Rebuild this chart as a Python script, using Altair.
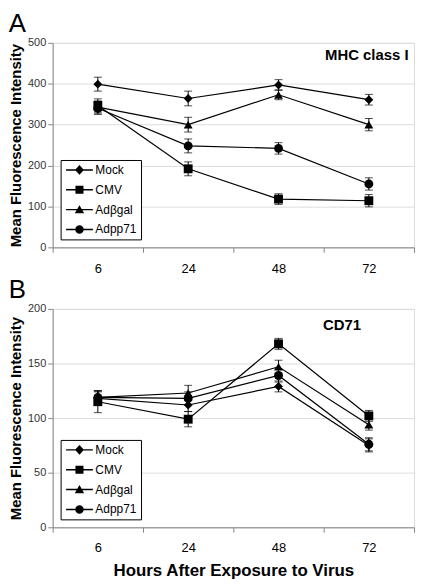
import altair as alt
import pandas as pd

FONT = "Liberation Sans"

hours = ["6", "24", "48", "72"]
series = ["Mock", "CMV", "Adβgal", "Adpp71"]

# Panel A: MHC class I
mhc_mock = [399, 364, 397, 361]
mhc_cmv = [347, 192, 118, 114]
mhc_adbgal = [343, 300, 373, 300]
mhc_adpp71 = [340, 248, 242, 155]
mhc_err_mock = [17, 18, 13, 13]
mhc_err_cmv = [16, 17, 13, 15]
mhc_err_adbgal = [15, 18, 12, 15]
mhc_err_adpp71 = [15, 17, 14, 15]

# Panel B: CD71
cd71_mock = [118, 112, 129, 75]
cd71_cmv = [115, 99, 168, 102]
cd71_adbgal = [119, 123, 147, 94]
cd71_adpp71 = [119, 118, 139, 76]
cd71_err_mock = [6, 6, 5, 6]
cd71_err_cmv = [10, 7, 5, 5]
cd71_err_adbgal = [6, 7, 6, 5]
cd71_err_adpp71 = [6, 6, 6, 6]

marker_shapes = ["diamond", "square", "triangle-up", "circle"]
# legend glyphs: a short line with the marker in its middle (shifted right by 2 units)
LINE = "M-1,-0.16L5,-0.16L5,0.16L-1,0.16Z "
legend_paths = [
    LINE + "M2,-1.1L3,0L2,1.1L1,0Z",
    LINE + "M1.1,-0.9L2.9,-0.9L2.9,0.9L1.1,0.9Z",
    LINE + "M2,-1L3.05,0.8L0.95,0.8Z",
    LINE + "M1.05,0A0.95,0.95 0 1,1 2.95,0A0.95,0.95 0 1,1 1.05,0Z",
]


def table(vals, errs):
    rows = []
    for s, v, e in zip(series, vals, errs):
        for h, y, err in zip(hours, v, e):
            rows.append(dict(series=s, hour=h, value=y, lo=y - err, hi=y + err))
    return pd.DataFrame(rows)


def panel(df, ymax, step, height, letter, note, note_value, note_dx, note_align,
          xtitle, xlabpad):
    xaxis = alt.Axis(
        title=xtitle if xtitle else None,
        tickBand="extent",
        labelAngle=0,
        labelFontSize=13,
        labelColor="black",
        labelPadding=xlabpad,
        tickSize=5,
        titleFontSize=17,
        titleFontWeight="bold",
        titleColor="black",
        titlePadding=9,
    )
    x = alt.X("hour:N", sort=hours,
              scale=alt.Scale(type="band", paddingInner=0, paddingOuter=0),
              axis=xaxis)
    yscale = alt.Scale(domain=[0, ymax], nice=False)
    yaxis = alt.Axis(
        values=list(range(0, ymax + 1, step)),
        title="Mean Fluorescence Intensity",
        labelFontSize=11,
        labelColor="#333333",
        labelPadding=2,
        tickSize=5,
        titleFontSize=15,
        titleFontWeight="bold",
        titleColor="black",
        titlePadding=4,
    )

    def Y(field):
        return alt.Y(field, type="quantitative", scale=yscale, axis=yaxis)

    base = alt.Chart(df)
    lines = base.mark_line(color="black", strokeWidth=1.2).encode(
        x=x, y=Y("value"), detail="series:N")
    bars = base.mark_rule(color="black", strokeWidth=1).encode(
        x=x, y=Y("lo"), y2="hi")
    cap_lo = base.mark_tick(color="black", size=8, thickness=1).encode(x=x, y=Y("lo"))
    cap_hi = base.mark_tick(color="black", size=8, thickness=1).encode(x=x, y=Y("hi"))
    pts = base.mark_point(filled=True, color="black", size=80, opacity=1).encode(
        x=x, y=Y("value"),
        shape=alt.Shape("series:N", scale=alt.Scale(domain=series, range=marker_shapes),
                        legend=None))
    leg = base.mark_point(filled=True, color="black", opacity=0).encode(
        x=x, y=Y("value"),
        shape=alt.Shape("series:N", scale=alt.Scale(domain=series, range=legend_paths),
                        legend=alt.Legend(
                            title=None, orient="bottom-left", offset=8, padding=4,
                            strokeColor="black", fillColor="white", cornerRadius=0,
                            labelFont=FONT, labelFontSize=12, labelColor="black",
                            symbolSize=81, symbolOffset=0, labelOffset=19, rowPadding=8,
                            symbolFillColor="black", symbolStrokeColor="black",
                            symbolStrokeWidth=0, symbolOpacity=1)))
    ann = alt.Chart(pd.DataFrame({"label": [note], "hour": ["72"], "value": [note_value]})).mark_text(
        font=FONT, fontSize=15, fontWeight="bold", color="black",
        align=note_align, baseline="middle", dx=note_dx).encode(
        x=x, y=Y("value"), text="label:N")

    return alt.layer(lines, bars, cap_lo, cap_hi, pts, leg, ann).resolve_scale(
        shape="independent"
    ).properties(
        width=364, height=height,
        title=alt.TitleParams(letter, anchor="start", frame="bounds", font=FONT,
                              fontSize=26, fontWeight="normal", color="black",
                              offset=0, dx=0),
    )


dfA = table([mhc_mock, mhc_cmv, mhc_adbgal, mhc_adpp71],
            [mhc_err_mock, mhc_err_cmv, mhc_err_adbgal, mhc_err_adpp71])
dfB = table([cd71_mock, cd71_cmv, cd71_adbgal, cd71_adpp71],
            [cd71_err_mock, cd71_err_cmv, cd71_err_adbgal, cd71_err_adpp71])

A = panel(dfA, 500, 100, 206, "A", "MHC class I", 470, 40, "right", None, 10)
B = panel(dfB, 200, 50, 220, "B", "CD71", 185, -27, "center",
          "Hours After Exposure to Virus", 9)

chart = alt.vconcat(A, B, spacing=0).properties(
    padding={"left": 0, "top": 0, "right": 2, "bottom": 0}
).configure_view(stroke="black", strokeWidth=1).configure_axis(
    domainColor="black", tickColor="black", grid=False,
    labelFont=FONT, titleFont=FONT
).configure(background="white")

chart.save("out.html", embed_options={"renderer": "svg", "actions": False})
